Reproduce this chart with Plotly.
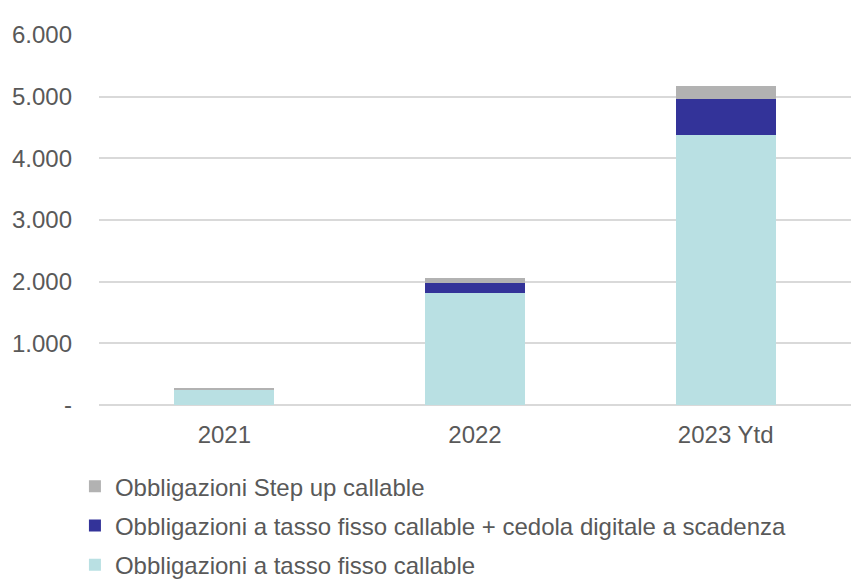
import plotly.graph_objects as go

# Categories and stacked series values
years = ["2021", "2022", "2023 Ytd"]
fisso_callable = [248, 1810, 4375]
fisso_digitale = [0, 162, 580]
step_up = [32, 81, 220]

y_tickvals = [0, 1000, 2000, 3000, 4000, 5000, 6000]
y_ticktext = ["-", "1.000", "2.000", "3.000", "4.000", "5.000", "6.000"]

series = [
    ("Obbligazioni a tasso fisso callable", fisso_callable, "#B9E0E3", 3),
    ("Obbligazioni a tasso fisso callable + cedola digitale a scadenza", fisso_digitale, "#333399", 2),
    ("Obbligazioni Step up callable", step_up, "#B2B2B2", 1),
]

fig = go.Figure()
for i, (name, vals, color, rank) in enumerate(series):
    fig.add_trace(go.Bar(
        x=years, y=vals, name=name,
        marker=dict(color=color, line=dict(width=0)),
        legendgroup=f"g{i}",
        legendrank=rank,
    ))

font_family = "Liberation Sans, Arial, sans-serif"
fig.update_layout(
    barmode="stack",
    bargap=0.6,
    width=851, height=579,
    margin=dict(l=99, r=0, t=35, b=174, autoexpand=False),
    plot_bgcolor="white",
    paper_bgcolor="white",
    font=dict(family=font_family, size=24, color="#595959"),
    xaxis=dict(
        showgrid=False, showline=False, ticks="",
        ticklabelstandoff=13,
        tickfont=dict(size=24, color="#595959"),
    ),
    yaxis=dict(
        range=[0, 6000],
        tickvals=y_tickvals, ticktext=y_ticktext,
        showgrid=True, gridcolor="#D9D9D9", gridwidth=1.5,
        zeroline=True, zerolinecolor="#D9D9D9", zerolinewidth=1.5,
        ticks="", ticklabelstandoff=26,
        tickfont=dict(size=24, color="#595959"),
    ),
    legend=dict(
        orientation="v",
        traceorder="grouped",
        tracegroupgap=5,
        x=-0.032, xanchor="left",
        y=-0.16, yanchor="top",
        font=dict(size=24, color="#595959"),
        itemwidth=30,
        bgcolor="rgba(0,0,0,0)",
    ),
)

fig.write_html("out.html")
